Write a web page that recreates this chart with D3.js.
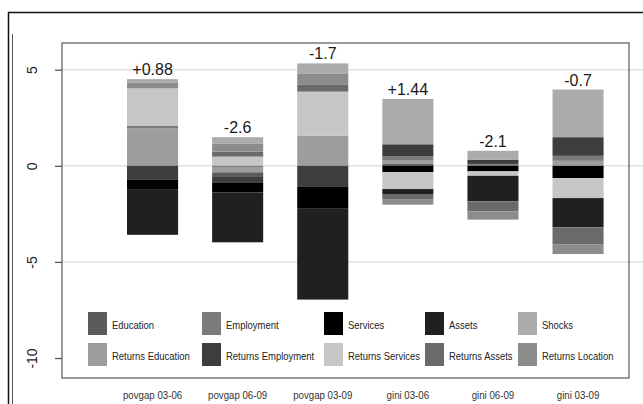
<!DOCTYPE html>
<html>
<head>
<meta charset="utf-8">
<script src="https://cdn.jsdelivr.net/npm/d3@7"></script>
<style>
  html, body { margin: 0; padding: 0; background: #fff; }
  svg { display: block; font-family: "Liberation Sans", Arial, sans-serif; }
</style>
</head>
<body>
<div id="chart"></div>
<script>
const categories = ["povgap 03-06", "povgap 06-09", "povgap 03-09", "gini 03-06", "gini 06-09", "gini 03-09"];
const totals = ["+0.88", "-2.6", "-1.7", "+1.44", "-2.1", "-0.7"];
const components = ["Education", "Employment", "Services", "Assets", "Shocks",
  "Returns Education", "Returns Employment", "Returns Services", "Returns Assets", "Returns Location"];
const yTicks = [5, 0, -5, -10];

// contributions of each bar, listed from zero outwards as they are stacked
const povgap0306 = [["Returns Education", 1.96], ["Employment", 0.13], ["Returns Services", 1.94],
  ["Returns Location", 0.31], ["Shocks", 0.17],
  ["Returns Employment", -0.73], ["Services", -0.48], ["Assets", -2.38]];
const povgap0609 = [["Returns Services", 0.48], ["Returns Assets", 0.26], ["Returns Location", 0.40], ["Shocks", 0.35],
  ["Employment", -0.10], ["Returns Education", -0.24], ["Education", -0.24], ["Returns Employment", -0.31],
  ["Services", -0.49], ["Assets", -2.60]];
const povgap0309 = [["Returns Education", 1.56], ["Returns Services", 2.30], ["Returns Assets", 0.38],
  ["Returns Location", 0.54], ["Shocks", 0.55],
  ["Returns Employment", -1.07], ["Services", -1.13], ["Assets", -4.76]];
const gini0306 = [["Education", 0.10], ["Returns Education", 0.17], ["Employment", 0.24],
  ["Returns Employment", 0.61], ["Shocks", 2.36],
  ["Services", -0.33], ["Returns Services", -0.88], ["Assets", -0.29], ["Returns Assets", -0.26], ["Returns Location", -0.26]];
const gini0609 = [["Employment", 0.10], ["Returns Employment", 0.21], ["Shocks", 0.47],
  ["Services", -0.29], ["Returns Services", -0.23], ["Assets", -1.33], ["Returns Assets", -0.52], ["Returns Location", -0.43]];
const gini0309 = [["Returns Education", 0.26], ["Employment", 0.26], ["Returns Employment", 0.97], ["Shocks", 2.48],
  ["Services", -0.64], ["Returns Services", -1.04], ["Assets", -1.52], ["Returns Assets", -0.90], ["Returns Location", -0.49]];

const bars = [povgap0306, povgap0609, povgap0309, gini0306, gini0609, gini0309];

const greys = ["#5b5b5b", "#7b7b7b", "#000000", "#202020", "#ababab",
  "#9d9d9d", "#3d3d3d", "#c6c6c6", "#6a6a6a", "#8c8c8c"];

const width = 643, height = 404;
const plot = { left: 62, right: 629, top: 43, bottom: 378 };

const svg = d3.select("#chart").append("svg")
  .attr("width", width)
  .attr("height", height);

// scanned page frame
svg.append("path")
  .attr("d", `M8.5,${height} V12.5 H${width}`)
  .attr("fill", "none")
  .attr("stroke", "#111")
  .attr("stroke-width", 1.5);
svg.append("line")
  .attr("x1", 12.5).attr("x2", 12.5)
  .attr("y1", 34).attr("y2", height)
  .attr("stroke", "#555")
  .attr("stroke-width", 1);

const x = d3.scaleBand()
  .domain(categories)
  .range([110, 620.6])
  .paddingInner(0.4)
  .paddingOuter(0.2);

const y = d3.scaleLinear()
  .domain([-11.04, 6.39])
  .range([plot.bottom, plot.top]);

const color = d3.scaleOrdinal(components, greys);

// grid
svg.append("g")
  .selectAll("line")
  .data(yTicks.filter(d => d > -10))
  .join("line")
  .attr("x1", plot.left)
  .attr("x2", width)
  .attr("y1", d => y(d))
  .attr("y2", d => y(d))
  .attr("stroke", "#e0e0e0")
  .attr("stroke-width", 1.5);

// stack positive parts upwards and negative parts downwards
const rects = bars.flatMap((segs, i) => {
  let up = 0, down = 0;
  return segs.map(([name, v]) => {
    const y0 = v >= 0 ? up : down;
    const y1 = y0 + v;
    if (v >= 0) up = y1; else down = y1;
    return { category: categories[i], name, y0, y1 };
  });
});

const tops = bars.map(segs => d3.sum(segs, d => Math.max(0, d[1])));

svg.append("g")
  .selectAll("rect")
  .data(rects)
  .join("rect")
  .attr("x", d => x(d.category))
  .attr("width", x.bandwidth())
  .attr("y", d => y(Math.max(d.y0, d.y1)))
  .attr("height", d => Math.abs(y(d.y0) - y(d.y1)))
  .attr("fill", d => color(d.name));

// net change on top of each bar
svg.append("g")
  .selectAll("text")
  .data(categories)
  .join("text")
  .attr("x", d => x(d) + x.bandwidth() / 2)
  .attr("y", (d, i) => y(tops[i]) - 4)
  .attr("text-anchor", "middle")
  .attr("font-size", 16)
  .attr("fill", "#1a1a1a")
  .text((d, i) => totals[i]);

// plot box
svg.append("rect")
  .attr("x", plot.left)
  .attr("y", plot.top)
  .attr("width", plot.right - plot.left)
  .attr("height", plot.bottom - plot.top)
  .attr("fill", "none")
  .attr("stroke", "#666")
  .attr("stroke-width", 1.3);

// y axis
const yAxis = svg.append("g")
  .attr("transform", `translate(${plot.left},0)`)
  .call(d3.axisLeft(y).tickValues(yTicks).tickSize(7).tickFormat(d3.format("d")));
yAxis.select(".domain").remove();
yAxis.selectAll(".tick line").attr("stroke", "#555").attr("stroke-width", 1.3);
yAxis.selectAll(".tick text")
  .attr("font-size", 14)
  .attr("fill", "#222")
  .attr("text-anchor", "middle")
  .attr("dy", null)
  .attr("x", null)
  .attr("transform", "translate(-25,0) rotate(-90)")
  .text(d => d < 0 ? "-" + Math.abs(d) : d);

// category labels
svg.append("g")
  .selectAll("text")
  .data(categories)
  .join("text")
  .attr("transform", d => `translate(${x(d) + x.bandwidth() / 2},399) scale(0.88,1)`)
  .attr("text-anchor", "middle")
  .attr("font-size", 11)
  .attr("fill", "#333")
  .text(d => d);

// legend, two rows of five
const legendCols = [88, 202, 324, 425, 518];
const legendRows = [312, 343];
const legend = svg.append("g")
  .selectAll("g")
  .data(components)
  .join("g")
  .attr("transform", (d, i) => `translate(${legendCols[i % 5]},${legendRows[Math.floor(i / 5)]})`);

legend.append("rect")
  .attr("width", 19)
  .attr("height", 23)
  .attr("fill", d => color(d));

legend.append("text")
  .attr("transform", "translate(24,17) scale(0.86,1)")
  .attr("font-size", 11)
  .attr("fill", "#222")
  .text(d => d);
</script>
</body>
</html>
